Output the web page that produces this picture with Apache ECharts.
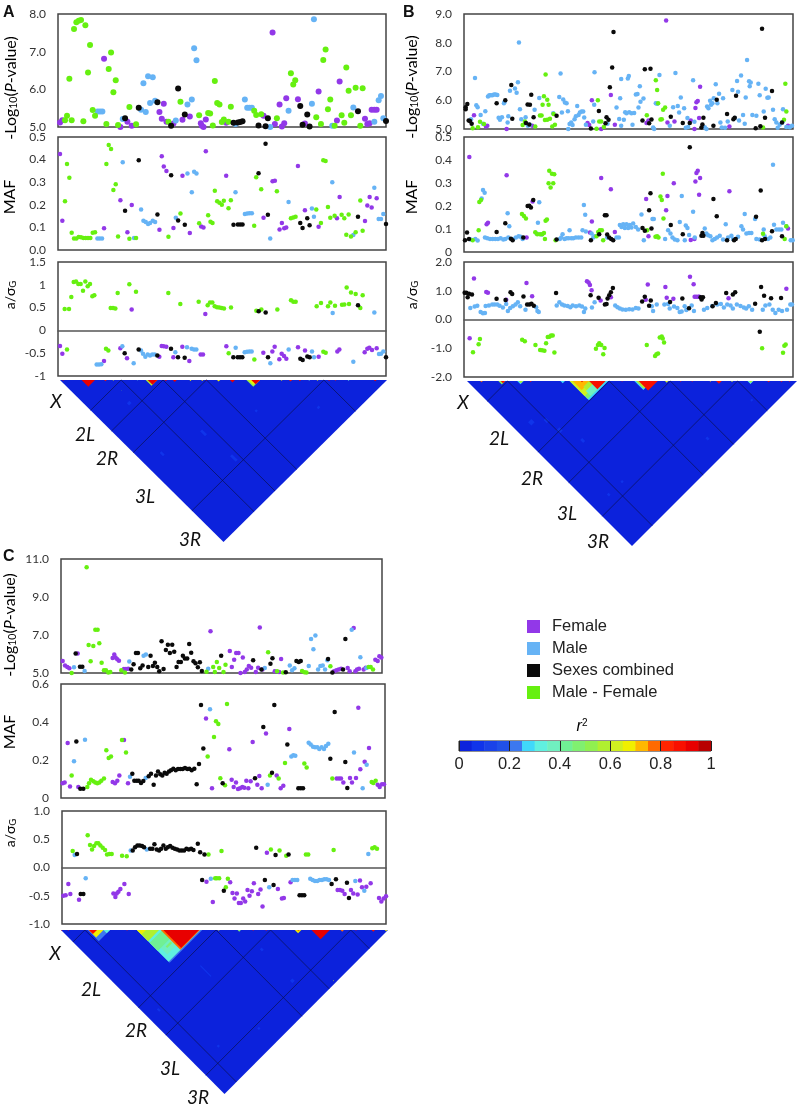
<!DOCTYPE html>
<html lang="en">
<head>
<meta charset="UTF-8">
<title>GWAS panels</title>
<script src="https://cdn.jsdelivr.net/npm/echarts@6/dist/echarts.min.js"></script>
<style>html,body{margin:0;background:#fff}</style>
</head>
<body>
<div id="myChart" style="width:798px;height:1111px"></div>
<script>
// x = position along the genome (arbitrary units, same scale as the plot width)
// panel A, -log10(P)
var aPFemale=[[6,5.12],[13,5.18],[138,6.81],[187,5],[208,5.14],[221,5.03],[304,5.4],[311,5.22],[317,5.62],[325,5.14],[346,5.09],[373,5.19],[395,5.28],[428,5.1],[431,5.03],[436,5],[443,5.2],[504,5.11],[616,5.3],[643,7.51],[650,5.08],[664,5.6],[671,5.01],[678,5.1],[684,5.76],[719,5.74],[740,5.09],[781,5.94],[836,5.17],[844,6.21],[920,5.22],[927,5.08],[934,5.1],[940,5.46],[948,5.46],[955,5.46]];
var aPMale=[[119,5.41],[126,5.41],[133,5.41],[194,5.21],[249,5.46],[256,6.16],[263,5.4],[270,6.35],[276,5.64],[284,6.32],[291,5.7],[353,5.17],[388,5.6],[401,5.73],[408,7.09],[415,6.77],[532,5.08],[560,5.73],[567,5.51],[574,5.51],[581,5.51],[636,5],[691,5.43],[761,5.62],[767,7.86],[822,5.03],[885,5.52],[948,5.14],[961,5.71],[968,5.82],[975,5.23]];
var aPCombined=[[201,5.23],[242,5.51],[298,5.66],[339,5.03],[360,6.02],[380,5.33],[526,5.11],[539,5.12],[546,5.13],[553,5.15],[601,5.04],[622,5.02],[629,5.23],[726,5.56],[733,5.06],[747,5.33],[754,5.01],[899,5.42],[983,5.16]];
var aPDiff=[[21,5.18],[27,5.3],[34,6.28],[41,5.18],[48,7.6],[55,7.78],[62,7.82],[69,7.84],[76,5.15],[82,7.7],[90,6.45],[96,7.18],[104,5.45],[111,5.3],[145,5.08],[152,6.54],[159,6.98],[166,5.92],[173,6.24],[180,5.05],[214,5.53],[234,5.07],[331,5.14],[367,5.67],[423,5.31],[450,5.37],[456,5.36],[464,5.04],[470,6.22],[477,5.64],[484,5.6],[491,5.13],[497,5.2],[511,5.14],[518,5.54],[588,5.43],[594,5.32],[609,5.34],[656,5.23],[698,6.43],[705,6.13],[711,6.24],[774,5.26],[788,5.08],[795,6.78],[802,7.06],[809,5.47],[816,5.73],[829,5.03],[850,5.31],[858,5.11],[864,6.58],[871,5.96],[878,5.31],[892,6.04],[906,5.03],[913,6.03]];
// panel A, MAF
var aMafFemale=[[6,.425],[13,.129],[138,.096],[187,.22],[208,.078],[221,.199],[304,.09],[311,.415],[317,.37],[325,.35],[346,.097],[373,.329],[395,.075],[429,.104],[436,.1],[443,.437],[504,.328],[616,.143],[643,.304],[650,.306],[664,.091],[671,.12],[678,.096],[684,.1],[719,.372],[740,.176],[781,.103],[836,.14],[844,.234],[920,.128],[927,.197],[934,.235],[940,.188],[955,.229]];
var aMafMale=[[118,.051],[125,.051],[132,.051],[194,.388],[228,.053],[249,.179],[256,.129],[263,.124],[270,.115],[276,.12],[284,.129],[291,.124],[353,.143],[388,.338],[401,.256],[408,.346],[415,.338],[532,.256],[560,.159],[567,.162],[574,.163],[581,.163],[636,.051],[691,.212],[761,.184],[767,.147],[822,.3],[885,.066],[948,.275],[961,.137],[968,.137],[975,.159]];
var aMafCombined=[[201,.174],[242,.397],[298,.157],[339,.331],[360,.131],[380,.112],[526,.112],[539,.113],[546,.113],[553,.113],[601,.34],[622,.47],[629,.156],[726,.12],[733,.097],[747,.141],[754,.11],[899,.147],[983,.115]];
var aMafDiff=[[21,.216],[27,.38],[34,.32],[41,.076],[48,.051],[55,.051],[62,.057],[69,.056],[76,.053],[83,.053],[90,.053],[97,.053],[104,.076],[111,.079],[145,.38],[152,.465],[159,.447],[166,.266],[173,.291],[180,.06],[214,.05],[234,.053],[331,.059],[367,.162],[423,.118],[450,.154],[457,.125],[463,.12],[470,.262],[477,.216],[484,.209],[491,.2],[497,.218],[511,.185],[518,.22],[588,.107],[594,.322],[609,.269],[656,.26],[698,.141],[705,.144],[712,.147],[774,.179],[788,.119],[795,.397],[802,.394],[809,.19],[816,.143],[829,.151],[850,.156],[858,.14],[864,.068],[871,.157],[878,.06],[892,.079],[906,.219],[913,.085]];
// panel A, a/sigma_G
var aEffFemale=[[6,-.34],[13,-.51],[138,-.67],[187,-.39],[207,-.61],[221,.46],[304,-.58],[311,-.34],[317,-.35],[325,-.36],[346,-.59],[373,-.36],[394,-.67],[428,-.53],[435,-.53],[442,.36],[505,-.35],[616,-.49],[643,-.46],[650,-.36],[664,-.63],[671,-.51],[678,-.56],[685,-.62],[720,-.37],[741,-.44],[782,-.58],[838,-.46],[844,-.42],[920,-.48],[928,-.4],[934,-.38],[942,-.43],[956,-.39]];
var aEffMale=[[116,-.75],[123,-.75],[130,-.74],[193,-.35],[227,-.72],[249,-.44],[255,-.51],[262,-.58],[269,-.53],[276,-.55],[283,-.53],[290,-.53],[352,-.48],[387,-.37],[401,-.4],[408,-.42],[415,-.42],[533,-.38],[560,-.48],[567,-.47],[574,-.46],[581,-.46],[637,-.72],[692,-.42],[762,-.46],[768,-.59],[824,.38],[886,-.69],[949,.39],[963,-.52],[969,-.51],[976,-.46]];
var aEffCombined=[[200,-.5],[242,-.42],[298,-.55],[339,-.4],[360,-.59],[380,-.6],[526,-.59],[539,-.59],[546,-.59],[553,-.59],[602,.42],[623,.39],[630,-.59],[727,-.62],[734,-.65],[748,-.57],[755,-.59],[900,.55],[984,-.59]];
var aEffDiff=[[20,.47],[27,-.42],[33,.47],[40,.73],[47,1.06],[54,1.07],[61,1.02],[68,1.02],[75,.87],[82,1.07],[89,.97],[96,1.02],[103,.75],[109,.77],[144,-.4],[151,-.44],[158,.49],[165,.49],[172,.48],[179,.82],[214,1.01],[234,.85],[331,.82],[367,.58],[422,.63],[449,.55],[456,.61],[463,.61],[470,.53],[477,.51],[484,.5],[491,.49],[498,.48],[512,-.5],[519,.5],[589,-.64],[595,.43],[610,.46],[658,.46],[699,.66],[706,.63],[713,.63],[776,.53],[789,.6],[796,-.47],[803,-.49],[810,.53],[817,.61],[831,.54],[852,.56],[859,.57],[866,.94],[873,.58],[879,.83],[893,.8],[907,.49],[914,.77]];

// panel B, -log10(P)
var bPFemale=[[30,5.48],[66,5.09],[70,5.11],[128,5],[205,5.11],[371,5.21],[376,5.14],[384,6],[412,5],[441,6.18],[453,5.15],[548,5.21],[554,5.3],[607,8.77],[611,5.23],[632,5.26],[681,5.3],[692,5],[695,5.73],[698,5.93],[702,5.97],[706,5.38],[709,6.47],[797,5.09],[973,5.11]];
var bPMale=[[21,5.34],[33,6.77],[37,5.83],[41,5.76],[50,5.49],[57,5.18],[64,5.62],[72,6.13],[76,6.17],[80,6.17],[85,6.17],[90,6.2],[95,6.2],[100,6.18],[104,5.39],[108,5.32],[114,5.41],[120,5.9],[122,5.95],[131,5.23],[133,5.44],[138,6.33],[153,6.41],[158,6.26],[162,6.63],[165,8.01],[168,5.69],[172,5.34],[185,5.41],[192,5.11],[198,5.15],[212,5.67],[226,6.08],[268,5.55],[286,6.11],[290,6.93],[294,5.57],[298,6.03],[303,5.92],[308,5.9],[312,5.62],[313,5],[317,5.17],[322,5.23],[326,5.14],[332,5.34],[336,5.44],[340,5.8],[344,5.49],[348,5.57],[353,5.61],[358,5.61],[361,5.4],[366,5.15],[388,5.26],[391,5.84],[392,6.97],[431,5.18],[458,5.75],[466,5.35],[469,6.07],[472,5.11],[472,6.74],[480,5.32],[484,5.58],[488,5.55],[492,6.76],[495,6.84],[496,5.58],[503,5.55],[506,5.15],[511,5.56],[516,6.2],[521,6.22],[524,5.75],[528,6.49],[530,5.95],[539,6.06],[568,5.05],[571,5],[576,5.9],[580,5.88],[587,6.88],[618,5.11],[628,5.76],[635,6.95],[642,5.8],[646,5.57],[651,6.1],[661,5.72],[666,5.04],[671,5.38],[673,5.07],[688,6.7],[692,5.25],[723,5.06],[728,5],[730,5.78],[734,5.72],[739,5.98],[742,5.84],[746,5.9],[750,6.07],[756,6.56],[761,5.9],[766,6.23],[770,5.23],[774,5.05],[778,6.07],[784,5.04],[792,5.26],[806,6.36],[813,5.38],[820,6.67],[823,6.3],[826,5.3],[832,6.86],[838,5.49],[843,5.18],[846,6.1],[850,7.4],[856,6.66],[858,6.49],[861,6.62],[866,5.49],[878,5.46],[884,6.57],[888,6.17],[900,5.61],[906,6.4],[911,6.09],[915,6.1],[928,5.67],[933,5.34],[938,5.23],[942,5.04],[948,5.15],[956,5.23],[958,5.69],[968,5.07],[978,5.06],[985,5.11]];
var bPCombined=[[5,5.76],[5,5.69],[10,5.87],[14,5.3],[18,5.28],[23,5.18],[98,5.9],[124,6],[142,6.53],[145,5.36],[186,5.21],[191,5.85],[196,5.16],[198,5.84],[202,6.19],[209,5.41],[278,5.46],[381,5.02],[405,5.63],[425,5.2],[428,5.41],[434,5.32],[438,6.45],[445,7.14],[449,8.37],[536,5.3],[543,7.08],[556,5.2],[560,7.1],[563,5.33],[621,5.43],[657,5.21],[678,5.21],[713,5.05],[716,5.16],[719,5.39],[749,5.11],[759,6.02],[790,5.52],[809,5.34],[813,5.39],[817,6.16],[876,5.03],[890,5.1],[895,8.49],[904,5.39],[925,6.32],[955,5.23]];
var bPDiff=[[26,5.03],[42,5.06],[48,5.25],[60,5.17],[176,5.14],[183,5.26],[214,5.09],[228,5.47],[233,5.47],[236,5.84],[240,6.14],[243,5.31],[245,6.9],[250,6.02],[250,5.32],[254,5.84],[258,5.36],[265,5.09],[269,5.52],[273,5.15],[398,5.01],[402,6],[406,5.26],[412,5.26],[420,5.07],[549,5.48],[576,6.7],[580,6.36],[583,5.9],[590,5.33],[594,5.34],[598,5.67],[604,5.75],[898,5.05],[961,5.32],[965,6.57],[968,5.61]];
// panel B, MAF
var bMafFemale=[[16,.413],[68,.121],[72,.127],[128,.334],[188,.063],[206,.22],[378,.085],[384,.133],[412,.322],[441,.273],[453,.087],[547,.23],[554,.069],[607,.181],[611,.243],[630,.299],[681,.052],[692,.057],[695,.306],[698,.343],[702,.353],[706,.249],[709,.322],[797,.264],[973,.102]];
var bMafMale=[[20,.054],[34,.057],[41,.05],[53,.233],[57,.27],[62,.258],[63,.063],[70,.06],[78,.057],[86,.057],[94,.057],[102,.057],[110,.06],[118,.054],[124,.057],[131,.168],[133,.063],[136,.112],[148,.057],[156,.063],[164,.069],[170,.066],[176,.057],[218,.08],[222,.127],[226,.216],[233,.076],[288,.057],[292,.063],[296,.077],[302,.057],[308,.06],[314,.06],[317,.095],[322,.06],[328,.06],[336,.063],[344,.063],[352,.063],[356,.095],[360,.204],[364,.162],[366,.089],[383,.08],[388,.063],[392,.069],[430,.063],[458,.063],[465,.063],[468,.117],[473,.109],[478,.121],[483,.104],[488,.121],[493,.104],[498,.117],[503,.106],[508,.124],[516,.109],[523,.098],[533,.163],[540,.051],[566,.144],[570,.144],[604,.057],[613,.095],[620,.08],[626,.063],[633,.054],[641,.051],[648,.13],[654,.243],[663,.051],[666,.115],[671,.104],[676,.074],[688,.175],[693,.063],[723,.102],[728,.08],[733,.073],[740,.069],[746,.051],[753,.057],[760,.063],[768,.071],[778,.054],[786,.121],[793,.063],[803,.071],[808,.057],[823,.066],[833,.112],[838,.098],[843,.165],[848,.08],[856,.083],[863,.083],[874,.144],[878,.057],[888,.054],[900,.098],[903,.069],[913,.057],[920,.063],[928,.379],[931,.118],[938,.098],[946,.098],[953,.098],[958,.127],[968,.112],[981,.051],[987,.051]];
var bMafCombined=[[3,.051],[9,.085],[15,.057],[98,.087],[124,.125],[141,.058],[146,.051],[178,.063],[191,.2],[196,.201],[201,.194],[208,.226],[278,.054],[381,.051],[406,.077],[423,.16],[428,.16],[430,.076],[436,.063],[442,.057],[448,.051],[536,.104],[543,.092],[556,.181],[560,.255],[563,.102],[621,.117],[657,.077],[678,.455],[713,.071],[716,.083],[719,.071],[749,.23],[759,.155],[790,.051],[811,.051],[816,.057],[877,.153],[891,.267],[895,.051],[904,.057],[925,.09],[955,.069]];
var bMafDiff=[[26,.051],[44,.095],[46,.217],[51,.226],[174,.165],[180,.156],[186,.146],[214,.086],[220,.077],[228,.077],[235,.077],[240,.083],[243,.057],[245,.136],[249,.141],[254,.299],[256,.353],[260,.28],[264,.34],[268,.299],[271,.338],[275,.051],[398,.069],[403,.087],[408,.095],[414,.095],[418,.051],[550,.095],[575,.066],[580,.069],[584,.063],[590,.241],[594,.226],[597,.34],[599,.146],[898,.079],[963,.057],[968,.112]];
// panel B, a/sigma_G
var bEffFemale=[[17,-.65],[30,1.43],[67,.96],[72,.93],[127,.69],[188,1.27],[205,.81],[370,1.33],[375,1.29],[379,1.2],[384,1.02],[411,.66],[442,.77],[547,.69],[553,1.22],[606,1.13],[610,.76],[630,.72],[680,1.49],[691,1.23],[694,.79],[699,.79],[705,.79],[708,.79],[796,.74],[970,1.07]];
var bEffMale=[[19,.4],[32,.45],[40,.48],[50,.26],[57,.22],[63,.23],[65,.47],[75,.49],[85,.52],[92,.52],[100,.52],[107,.48],[117,.42],[127,.54],[132,.3],[139,.4],[147,.46],[155,.52],[162,.6],[169,.46],[185,.34],[217,.43],[221,.3],[225,.26],[279,.49],[287,.6],[295,.52],[302,.49],[312,.47],[320,.43],[327,.49],[337,.46],[347,.49],[355,.45],[361,.26],[365,.38],[385,.42],[393,.6],[455,.49],[462,.43],[469,.38],[477,.35],[487,.34],[497,.36],[507,.35],[517,.4],[525,.38],[565,.46],[569,.3],[580,.52],[603,.52],[614,.54],[619,.38],[632,.45],[642,.4],[649,.26],[655,.28],[664,.46],[669,.33],[685,.49],[692,.3],[722,.34],[732,.4],[747,.47],[762,.52],[773,.54],[782,.42],[792,.52],[802,.49],[809,.38],[821,.52],[832,.47],[842,.42],[849,.38],[857,.46],[867,.34],[899,.34],[907,.49],[919,.52],[929,.34],[937,.23],[947,.34],[957,.3],[972,.34],[982,.52],[987,.52]];
var bEffCombined=[[2,.93],[7,.93],[11,.77],[15,.9],[24,.87],[98,.72],[125,.68],[140,.95],[145,.89],[179,.8],[190,.52],[197,.52],[203,.55],[210,.48],[277,.92],[381,.84],[405,.76],[424,.52],[429,.54],[432,.73],[437,.84],[442,.95],[448,1.1],[536,.63],[544,.79],[557,.48],[562,.66],[620,.61],[657,.73],[677,.39],[712,.77],[715,.7],[719,.77],[748,.46],[758,.57],[789,.92],[809,.87],[816,.95],[876,.55],[890,-.43],[894,1.13],[903,.83],[924,.74],[954,.75]];
var bEffDiff=[[27,-1.14],[44,-.86],[48,-.68],[175,-.7],[183,-.76],[215,-.89],[229,-1.06],[235,-1.07],[242,-1.09],[247,-.83],[252,-.61],[257,-.6],[262,-.56],[267,-.56],[272,-1.15],[397,-1.02],[403,-.89],[407,-.83],[413,-.89],[419,-1.21],[423,-.99],[550,-.89],[575,-1.27],[579,-1.21],[584,-1.18],[589,-.63],[595,-.59],[598,-.66],[602,-.8],[897,-1],[960,-1.16],[964,-.91],[968,-.87]];

// panel C, -log10(P)
var cPFemale=[[5,5.63],[12,5.39],[19,5.32],[25,5.25],[50,6.02],[155,5.79],[160,5.97],[164,5.81],[169,5.72],[174,5.65],[189,5.21],[195,5.21],[202,5.23],[449,7.2],[507,6.16],[513,5.32],[520,5.7],[526,6.05],[533,6.05],[539,5],[546,5.81],[552,5.05],[558,5.19],[564,5.37],[571,5.28],[585,5.05],[592,5.28],[597,7.39],[605,5.19],[642,5.09],[655,5.05],[661,5.74],[820,5.09],[827,5.14],[834,5.18],[841,5.23],[861,5.26],[867,5.09],[879,7.37],[884,5.09],[889,5.19],[895,5.23],[909,5.19],[915,5.28],[944,5.7],[951,5.63],[956,5.88],[962,5.81]];
var cPMale=[[39,5.3],[71,5.11],[205,5.6],[248,5.91],[255,5.97],[442,5.23],[612,5.26],[687,5.4],[694,5.14],[701,5.25],[744,5.37],[751,6.79],[758,6.25],[764,6.97],[772,5.19],[779,5.37],[786,5.4],[793,5.19],[800,5.67],[873,7.27],[899,5.83],[917,5.26]];
var cPCombined=[[44,6.02],[57,5.33],[64,5.33],[211,5.19],[218,5.46],[225,6.05],[231,6.05],[238,5.25],[245,5.4],[262,5.32],[269,5.91],[276,5.37],[282,5.54],[289,5.32],[295,5.09],[302,6.67],[308,5.21],[315,6.21],[321,6.49],[327,6.05],[334,6.49],[340,6.12],[347,5.32],[353,5.58],[360,5.58],[366,5.91],[372,5.76],[379,5.76],[385,6.53],[391,6.07],[398,5.62],[404,5.51],[411,5.3],[417,5.56],[423,5.11],[481,5.91],[577,5.67],[602,5.19],[629,5.49],[635,5.77],[675,5.04],[707,5.63],[714,5.58],[720,5.63],[802,5.74],[815,5.02],[847,5.19],[854,6.79]];
var cPDiff=[[32,5],[77,10.57],[83,6.48],[89,5.62],[97,6.42],[103,7.27],[110,7.27],[115,6.56],[122,5.54],[129,5.14],[135,5.14],[142,5.02],[148,5.05],[181,5.14],[192,5.02],[437,5.07],[457,5.32],[462,5.05],[468,5.58],[475,5.26],[488,5.05],[494,5.44],[622,6.09],[649,5.09],[667,5.02],[724,5.11],[731,5.04],[737,5.02],[809,5.35],[924,5.32],[930,5.32],[937,5.18]];
// panel C, MAF
var cMafFemale=[[5,.077],[11,.082],[20,.289],[27,.061],[52,.058],[155,.084],[162,.077],[169,.091],[175,.119],[189,.305],[201,.077],[435,.418],[453,.051],[505,.256],[512,.096],[518,.058],[525,.082],[531,.047],[537,.051],[544,.058],[550,.054],[556,.091],[562,.051],[569,.088],[575,.295],[589,.07],[595,.116],[602,.051],[615,.34],[647,.119],[659,.051],[667,.065],[685,.363],[827,.102],[834,.102],[840,.102],[847,.081],[867,.105],[873,.081],[885,.105],[892,.475],[898,.151],[911,.191],[924,.263],[950,.07],[956,.058],[963,.072],[969,.072]];
var cMafMale=[[39,.193],[72,.307],[207,.112],[254,.105],[447,.467],[620,.07],[691,.218],[697,.225],[703,.223],[743,.291],[749,.281],[756,.27],[762,.267],[769,.267],[775,.258],[782,.267],[789,.258],[795,.274],[802,.286],[879,.239],[905,.051],[917,.175]];
var cMafCombined=[[46,.298],[58,.049],[67,.049],[214,.128],[220,.091],[227,.091],[233,.091],[240,.079],[247,.089],[263,.114],[270,.128],[278,.07],[285,.119],[291,.14],[298,.125],[304,.118],[311,.133],[317,.128],[324,.14],[330,.146],[337,.154],[344,.146],[351,.153],[358,.153],[365,.153],[372,.158],[379,.153],[385,.154],[392,.146],[400,.154],[407,.072],[414,.179],[420,.489],[427,.261],[485,.077],[582,.104],[607,.374],[633,.133],[640,.489],[679,.282],[712,.051],[719,.051],[726,.051],[808,.207],[821,.453],[853,.189],[859,.053]];
var cMafDiff=[[32,.119],[79,.058],[84,.077],[90,.096],[97,.088],[103,.081],[109,.077],[115,.082],[121,.091],[129,.102],[136,.251],[143,.211],[150,.219],[183,.305],[195,.24],[440,.218],[459,.321],[465,.404],[472,.389],[478,.104],[492,.067],[498,.495],[627,.119],[653,.102],[672,.184],[730,.181],[737,.161],[814,.102],[932,.084],[937,.079],[944,.091]];
// panel C, a/sigma_G
var cEffFemale=[[4,-.5],[11,-.49],[19,-.29],[25,-.47],[51,-.57],[154,-.46],[160,-.52],[164,-.46],[169,-.43],[175,-.38],[187,-.29],[200,-.47],[433,-.25],[452,-.61],[504,-.26],[511,-.45],[517,-.55],[524,-.46],[530,-.63],[536,-.63],[543,-.55],[549,-.6],[556,-.4],[562,-.5],[569,-.42],[575,-.28],[588,-.47],[595,-.39],[601,-.69],[614,.26],[647,-.38],[659,-.55],[665,-.54],[685,-.26],[826,-.4],[833,-.4],[840,-.41],[847,-.47],[866,-.4],[873,-.46],[886,-.48],[893,-.23],[899,-.35],[912,-.34],[925,-.28],[950,-.54],[957,-.6],[964,-.55],[971,-.51]];
var cEffMale=[[38,.22],[71,-.19],[206,.3],[254,.32],[446,-.2],[621,-.35],[691,-.22],[698,-.22],[705,-.22],[744,-.2],[751,-.22],[758,-.24],[765,-.24],[772,-.22],[779,-.22],[786,-.21],[793,-.21],[800,-.22],[879,-.24],[906,-.41],[918,.24]];
var cEffCombined=[[45,.24],[56,-.47],[64,-.47],[212,.3],[219,.36],[226,.39],[233,.39],[240,.38],[246,.36],[264,.33],[271,.33],[277,.41],[284,.32],[291,.3],[297,.33],[304,.39],[311,.33],[317,.36],[324,.38],[331,.35],[338,.33],[345,.32],[352,.3],[359,.3],[366,.3],[373,.33],[380,.32],[387,.33],[394,.31],[407,.42],[414,.27],[420,-.22],[427,.23],[485,-.41],[582,.35],[608,-.22],[634,-.31],[640,.22],[679,.23],[712,-.49],[719,-.49],[726,-.49],[808,-.29],[821,-.21],[854,-.27],[860,-.54]];
var cEffDiff=[[32,.29],[77,.57],[84,.4],[90,.32],[96,.38],[103,.43],[109,.43],[115,.39],[122,.35],[129,.31],[135,.23],[142,.24],[149,.24],[180,.21],[194,.2],[439,.23],[459,-.19],[464,-.19],[471,-.19],[478,.29],[491,-.35],[497,-.2],[626,.32],[652,.3],[672,.21],[731,.23],[738,.23],[814,.31],[930,.34],[937,.36],[944,.33]];

// tick labels
var aPTicks=['5.0','6.0','7.0','8.0'];
var aMafTicks=['0.0','0.1','0.2','0.3','0.4','0.5'];
var aEffTicks=['-1','-0.5','0','0.5','1','1.5'];
var bPTicks=['5.0','6.0','7.0','8.0','9.0'];
var bMafTicks=['0','0.1','0.2','0.3','0.4','0.5'];
var bEffTicks=['-2.0','-1.0','0.0','1.0','2.0'];
var cPTicks=['5.0','7.0','9.0','11.0'];
var cMafTicks=['0','0.2','0.4','0.6'];
var cEffTicks=['-1.0','-0.5','0.0','0.5','1.0'];

// chromosome arm borders, as fraction of the genome
var aBreaks=[.187,.315,.448,.807];
var bBreaks=[.123,.431,.616,.82];
var cBreaks=[.073,.474,.641,.886];

// LD map patches: [snp1 from, snp1 to, snp2 from, snp2 to, r2], from==from gives the diagonal triangle
var aLd=[[0,1,0,1,.02],
[.133,.148,.276,.29,.08],[.285,.297,.755,.79,.07],[.27,.282,.587,.617,.09],[.08,.09,.53,.55,.07],[.70,.712,.87,.88,.07],[.5,.51,.69,.70,.09],[.155,.157,.22,.222,.5],
[.066,.107,.066,.107,.9],[.007,.012,.007,.012,.9],[.135,.143,.135,.143,.85],[.161,.165,.161,.165,.65],[.235,.238,.235,.238,.3],
[.262,.298,.262,.298,.55],[.268,.298,.268,.298,.9],[.32,.327,.32,.327,.9],[.345,.357,.345,.357,.9],[.396,.402,.396,.402,.65],[.432,.438,.432,.438,.65],[.445,.45,.445,.45,.9],[.48,.49,.48,.49,.65],[.52,.535,.52,.535,.9],
[.57,.612,.57,.612,.5],[.576,.606,.576,.606,.65],[.585,.612,.585,.612,.9],[.675,.68,.675,.68,.65],[.70,.71,.70,.71,.85],[.73,.737,.73,.737,.9],[.76,.764,.76,.764,.3],[.785,.79,.785,.79,.65],[.82,.826,.82,.826,.9],[.84,.845,.84,.845,.85],[.88,.885,.88,.885,.3],[.96,.968,.96,.968,.9]];
var bLd=[[0,1,0,1,.02],
[.114,.128,.35,.37,.08],[.164,.176,.522,.54,.07],[.549,.56,.896,.91,.08],[.08,.09,.768,.78,.08],[.80,.81,.917,.925,.09],[.16,.17,.77,.78,.07],[.06,.08,.31,.33,.08],[.12,.14,.42,.44,.07],
[.04,.048,.04,.048,.75],[.095,.116,.095,.116,.5],[.102,.116,.102,.116,.85],[.152,.172,.152,.172,.28],[.157,.17,.157,.17,.55],[.19,.196,.19,.196,.85],[.283,.297,.283,.297,.27],
[.311,.428,.311,.428,.28],[.311,.42,.311,.42,.45],[.311,.402,.311,.402,.62],[.32,.375,.32,.375,.72],[.33,.39,.39,.42,.38],[.335,.37,.37,.39,.55],[.37,.42,.37,.42,.87],[.345,.352,.345,.352,.85],
[.468,.472,.468,.472,.85],[.507,.562,.507,.562,.28],[.512,.558,.512,.558,.55],[.52,.578,.52,.578,.86],[.60,.61,.60,.61,.6],[.645,.65,.645,.65,.85],[.68,.685,.68,.685,.85],[.735,.74,.735,.74,.7],[.755,.772,.755,.772,.85],[.80,.806,.80,.806,.6],[.85,.868,.85,.868,.3],[.855,.865,.855,.865,.55],[.91,.918,.91,.918,.85],[.95,.956,.95,.956,.85],[.975,.98,.975,.98,.85]];
var cLd=[[0,1,0,1,.02],
[.545,.56,.855,.87,.09],[.677,.68,.987,.99,.6],[.315,.32,.535,.6,.08],[.051,.06,.535,.55,.07],[.122,.132,.83,.84,.08],[.549,.56,.667,.68,.08],[.3,.31,.9,.91,.07],
[.0,.004,.0,.004,.9],[.02,.024,.02,.024,.85],[.081,.15,.081,.15,.24],[.085,.13,.085,.13,.65],[.085,.11,.085,.11,.87],[.13,.15,.13,.15,.3],
[.232,.432,.232,.432,.22],[.232,.426,.232,.426,.3],[.25,.31,.36,.40,.36],[.232,.31,.31,.36,.42],[.232,.30,.232,.30,.58],[.232,.26,.232,.26,.66],[.31,.318,.34,.40,.45],[.27,.3,.37,.38,.45],[.305,.425,.305,.425,.76],[.313,.422,.313,.422,.9],
[.20,.204,.20,.204,.85],[.48,.485,.48,.485,.65],[.54,.55,.54,.55,.45],[.585,.59,.585,.59,.85],[.625,.63,.625,.63,.85],[.715,.735,.715,.735,.65],[.722,.73,.722,.73,.75],[.766,.822,.766,.822,.9],[.855,.865,.855,.865,.75],[.90,.904,.90,.904,.85],[.95,.96,.95,.96,.85],[.99,.998,.99,.998,.65]];

// colour key
var r2Bins=[0,.05,.1,.15,.2,.25,.3,.35,.4,.45,.5,.55,.6,.65,.7,.75,.8,.85,.9,.95];
var r2Colors=['#0c22dc','#1034ea','#1a42e8','#2050e8','#3c78f0','#40d8fa','#60f0e0','#70f0c0','#70f094','#80f070','#90f050','#b0f030','#d0f020','#f0f000','#ffb800','#ff6a00','#ff2400','#f81000','#e80000','#b80000'];
var r2Ticks=['0','0.2','0.4','0.6','0.8','1'];

var seriesNames=['Female','Male','Sexes combined','Male - Female'];
var seriesColors=['#9238e8','#66b3f5','#0a0a0a','#66f010'];

var font='Lato, "Open Sans", sans-serif';
var grids=[],xAxes=[],yAxes=[],series=[],graphics=[];

function addGrid(left,top,width,height,xMax,yTicks,showZero,showGrid){
    var vals=yTicks?yTicks.map(Number):[0,1];
    grids.push({left:left,top:top,width:width,height:height,show:showGrid,borderColor:'#444',borderWidth:1.5,backgroundColor:'transparent'});
    xAxes.push({type:'value',gridIndex:grids.length-1,min:0,max:xMax,show:showZero,
        axisLine:{onZero:true,lineStyle:{color:'#555',width:1.5}},axisTick:{show:false},axisLabel:{show:false},splitLine:{show:false}});
    yAxes.push({type:'value',gridIndex:grids.length-1,min:vals[0],max:vals[vals.length-1],show:!!yTicks,inverse:!yTicks,
        axisLine:{show:false},axisTick:{show:false},splitLine:{show:false},
        axisLabel:yTicks?{customValues:vals,margin:12,color:'#333',fontFamily:font,fontSize:12,
            formatter:function(v){return yTicks[vals.indexOf(v)];}}:{show:false}});
    return grids.length-1;
}

function addPlot(box,xMax,ticks,lists,size,showZero){
    var g=addGrid(box[0],box[1],box[2],box[3],xMax,ticks,showZero,true);
    lists.forEach(function(list,k){
        series.push({type:'scatter',name:seriesNames[k],xAxisIndex:g,yAxisIndex:g,data:list,symbolSize:size,z:k===2?3:2,
            itemStyle:{color:seriesColors[k],opacity:1},silent:true});
    });
}

function ldColor(r2){return r2Colors[Math.min(19,Math.floor(r2*20))];}

function addLd(box,patches,breaks){
    var g=addGrid(box[0],box[1],box[2],box[3],1,null,false,false);
    series.push({type:'custom',xAxisIndex:g,yAxisIndex:g,data:patches,encode:{x:0,y:2},silent:true,
        renderItem:function(params,api){
            var i0=api.value(0),i1=api.value(1),j0=api.value(2),j1=api.value(3);
            var pts=[[i0,j0],[i1,j0],[i1,j1],[i0,j1]].filter(function(p){return p[0]<=p[1];})
                .map(function(p){return api.coord([(p[0]+p[1])/2,p[1]-p[0]]);});
            return {type:'polygon',shape:{points:pts},style:{fill:ldColor(api.value(4))}};
        }});
    series.push({type:'custom',xAxisIndex:g,yAxisIndex:g,data:breaks.map(function(b){return [b,0];}),encode:{x:0,y:1},silent:true,
        renderItem:function(params,api){
            var b=api.value(0);
            var line=function(a,c){return {type:'line',shape:{x1:a[0],y1:a[1],x2:c[0],y2:c[1]},style:{stroke:'#0a1050',lineWidth:.7}};};
            var top=api.coord([b,0]);
            return {type:'group',children:[
                line(top,api.coord([b/2,b])),
                line(top,api.coord([(b+1)/2,1-b]))
            ]};
        }});
}

// panel A
addPlot([58,14,328,113],983,aPTicks,[aPFemale,aPMale,aPCombined,aPDiff],6,false);
addPlot([58,137,328,113],983,aMafTicks,[aMafFemale,aMafMale,aMafCombined,aMafDiff],4.5,false);
addPlot([58,262,328,114],984,aEffTicks,[aEffFemale,aEffMale,aEffCombined,aEffDiff],4.5,true);
addLd([60,380,327,162],aLd,aBreaks);
// panel B
addPlot([464,14,329,115],988,bPTicks,[bPFemale,bPMale,bPCombined,bPDiff],4.5,false);
addPlot([464,137,329,115],988,bMafTicks,[bMafFemale,bMafMale,bMafCombined,bMafDiff],4.5,false);
addPlot([464,262,329,115],990,bEffTicks,[bEffFemale,bEffMale,bEffCombined,bEffDiff],4.5,true);
addLd([467,381,330,165],bLd,bBreaks);
// panel C
addPlot([61,559,321,114],964,cPTicks,[cPFemale,cPMale,cPCombined,cPDiff],4.5,false);
addPlot([61,684,324,114],972,cMafTicks,[cMafFemale,cMafMale,cMafCombined,cMafDiff],4.5,false);
addPlot([62,811,324,113],971,cEffTicks,[cEffFemale,cEffMale,cEffCombined,cEffDiff],4.5,true);
addLd([61,930,327,164],cLd,cBreaks);

// colour key
var keyGrid=grids.length;
grids.push({left:459,top:741,width:252,height:10,show:true,borderColor:'#222',borderWidth:1});
xAxes.push({type:'value',gridIndex:keyGrid,min:0,max:1,z:5,
    axisLine:{show:false},splitLine:{show:false},axisTick:{show:true,inside:true,customValues:r2Ticks.map(Number),length:10,lineStyle:{color:'#222',width:1}},
    axisLabel:{customValues:r2Ticks.map(Number),margin:5,color:'#222',fontFamily:'"Liberation Sans",sans-serif',fontSize:16.5,
        formatter:function(v){return r2Ticks[r2Ticks.map(Number).indexOf(v)];}}});
yAxes.push({type:'value',gridIndex:keyGrid,min:0,max:1,show:false});
series.push({type:'custom',xAxisIndex:keyGrid,yAxisIndex:keyGrid,data:r2Bins.map(function(v){return [v,0];}),encode:{x:0,y:1},silent:true,
    renderItem:function(params,api){
        var a=api.coord([api.value(0),0]),c=api.coord([api.value(0)+.05,1]);
        return {type:'rect',shape:{x:a[0],y:c[1],width:c[0]-a[0]+.5,height:a[1]-c[1]},style:{fill:r2Colors[params.dataIndex]}};
    }});

// side labels, rotated
var nameRich={n:{fontFamily:font,fontSize:16,color:'#333'},s:{fontFamily:font,fontSize:10.5,color:'#333',padding:[6,0,0,0]},
    i:{fontFamily:font,fontSize:16,fontStyle:'italic',color:'#333'},m:{fontFamily:font,fontSize:14,color:'#333'},g:{fontFamily:font,fontSize:9.5,color:'#333',padding:[6,0,0,0]}};
[[11,88,'{n|-Log}{s|10}{n|(}{i|P}{n|-value)}'],[10,197,'{n|MAF}'],[10,295,'{m|a/σ}{g|G}'],
 [412,87,'{n|-Log}{s|10}{n|(}{i|P}{n|-value)}'],[412,197,'{n|MAF}'],[412,295,'{m|a/σ}{g|G}'],
 [10,625,'{n|-Log}{s|10}{n|(}{i|P}{n|-value)}'],[10,732,'{n|MAF}'],[10,833,'{m|a/σ}{g|G}']].forEach(function(t){
    graphics.push({type:'text',x:t[0],y:t[1],rotation:Math.PI/2,silent:true,
        style:{text:t[2],rich:nameRich,align:'center',verticalAlign:'middle'}});
});

// chromosome names
[['X',56,402],['2L',85,435],['2R',107,459],['3L',145,497],['3R',190,540],
 ['X',463,403],['2L',499,439],['2R',532,479],['3L',567,514],['3R',598,542],
 ['X',55,954],['2L',91,990],['2R',136,1031],['3L',170,1069],['3R',198,1098]].forEach(function(t){
    graphics.push({type:'text',x:t[1],y:t[2],silent:true,
        style:{text:t[0],fontFamily:font,fontStyle:'italic',fontSize:19,fill:'#111',align:'center',verticalAlign:'middle'}});
});

// r2 heading
graphics.push({type:'text',x:582,y:727,silent:true,style:{text:'{i|r}{u|2}',align:'center',verticalAlign:'middle',
    rich:{i:{fontFamily:'"Liberation Sans",sans-serif',fontStyle:'italic',fontSize:16,color:'#222'},u:{fontFamily:'"Liberation Sans",sans-serif',fontSize:10,color:'#222',padding:[0,0,7,0]}}}});

var myChart=echarts.init(document.getElementById('myChart'),null,{renderer:'canvas'});
myChart.setOption({
    animation:false,
    backgroundColor:'#fff',
    title:[
        {text:'A',left:3,top:5,textStyle:{fontFamily:'"Liberation Sans"',fontWeight:'bold',fontSize:16,color:'#111'},padding:0},
        {text:'B',left:403,top:5,textStyle:{fontFamily:'"Liberation Sans"',fontWeight:'bold',fontSize:16,color:'#111'},padding:0},
        {text:'C',left:3,top:549,textStyle:{fontFamily:'"Liberation Sans"',fontWeight:'bold',fontSize:16,color:'#111'},padding:0}
    ],
    legend:{orient:'vertical',left:527,top:618,padding:0,itemWidth:13,itemHeight:13,itemGap:5,icon:'rect',selectedMode:false,
        data:seriesNames,textStyle:{fontFamily:'"Liberation Sans",sans-serif',fontSize:16.5,color:'#222',padding:[0,0,0,7]}},
    grid:grids,
    xAxis:xAxes,
    yAxis:yAxes,
    series:series,
    graphic:graphics
});
</script>
</body>
</html>
